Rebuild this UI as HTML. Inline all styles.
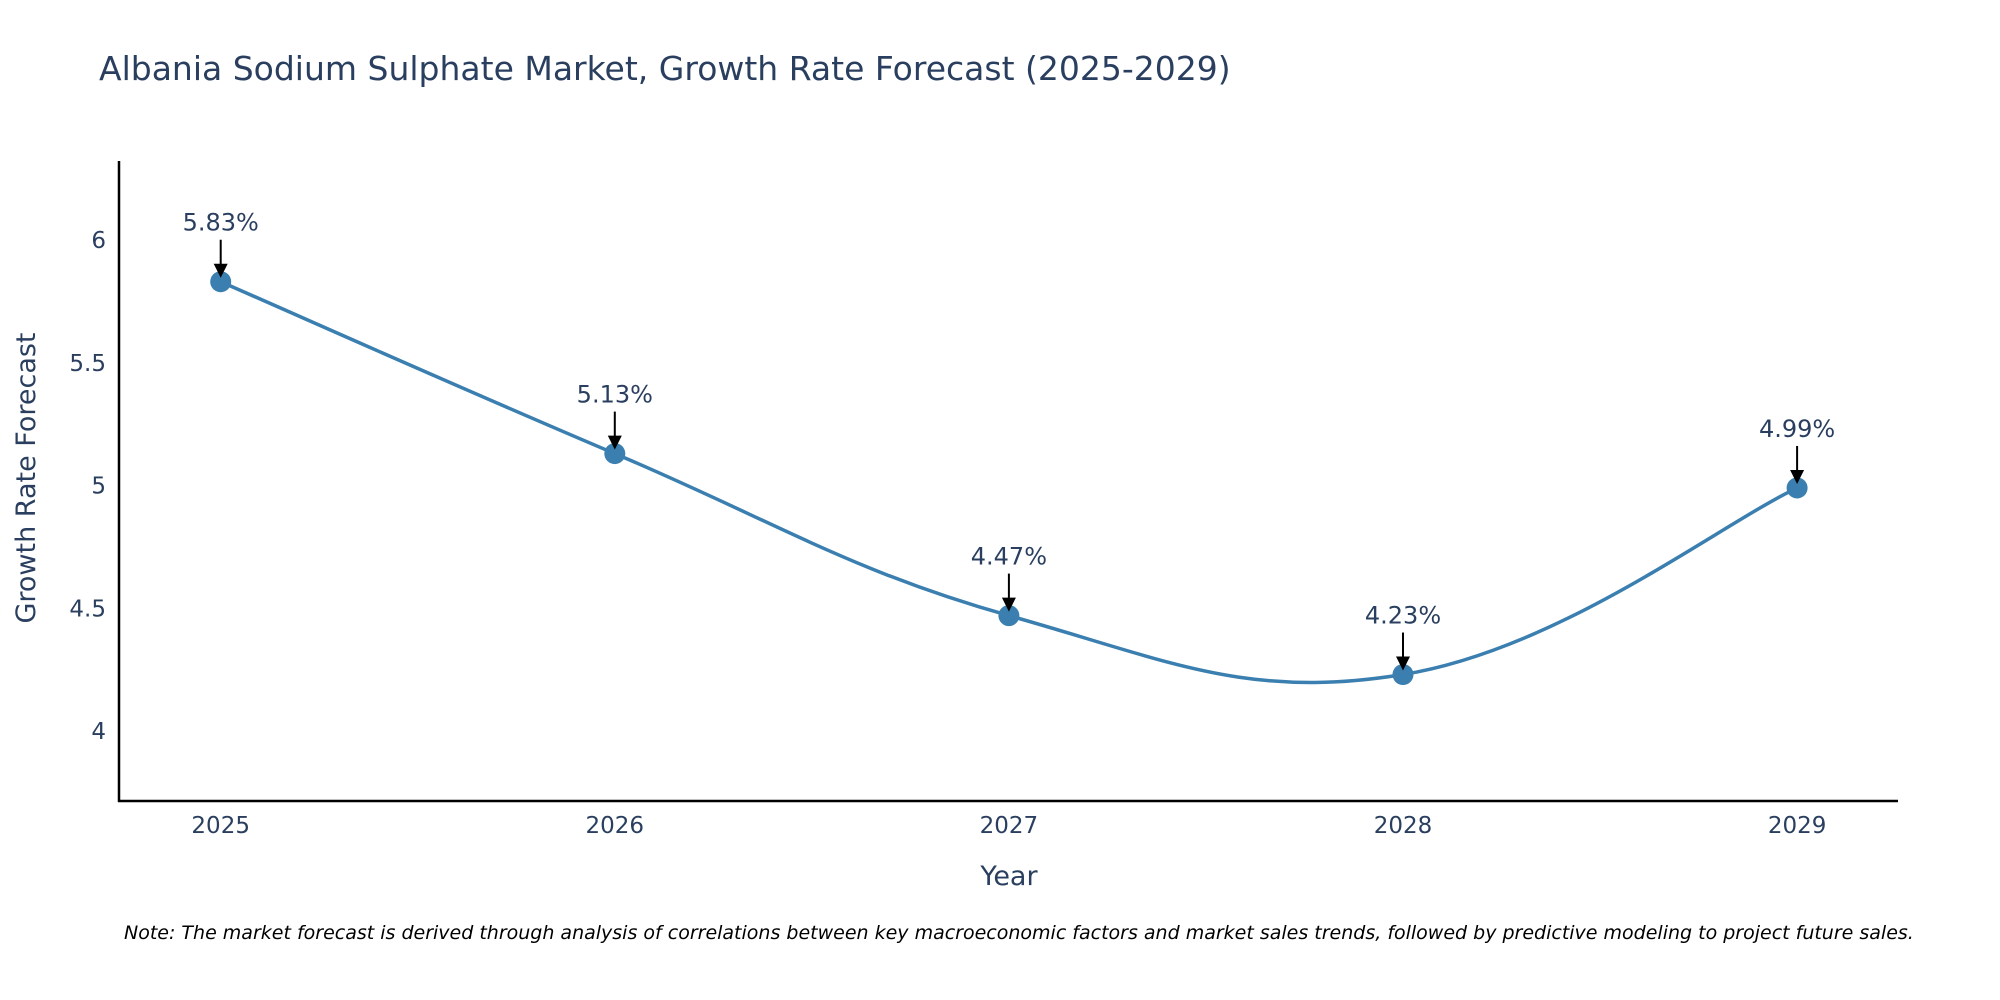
<!DOCTYPE html>
<html><head><meta charset="utf-8"><style>
html,body{margin:0;padding:0;background:#fff;}
svg{display:block;font-family:"DejaVu Sans","Liberation Sans",sans-serif;}
</style></head><body>
<svg id="chart" width="2000" height="1000" viewBox="0 0 2000 1000">
<text x="99" y="80" font-size="33" fill="#2a3f5f">Albania Sodium Sulphate Market, Growth Rate Forecast (2025-2029)</text>
<g id="yticks"></g>
<g id="xticks"></g>
<line x1="119" y1="161" x2="119" y2="802" stroke="#000" stroke-width="2.5"/>
<line x1="118" y1="801" x2="1898" y2="801" stroke="#000" stroke-width="2.5"/>
<g id="series"></g>
<g id="annots"></g>
<text x="1009" y="885" font-size="27" fill="#2a3f5f" text-anchor="middle">Year</text>
<text transform="translate(35,478) rotate(-90)" font-size="27" fill="#2a3f5f" text-anchor="middle">Growth Rate Forecast</text>
<text x="124" y="939" font-size="19" font-style="italic" fill="#000">Note: The market forecast is derived through analysis of correlations between key macroeconomic factors and market sales trends, followed by predictive modeling to project future sales.</text>
</svg>
<script>
const years = [2025, 2026, 2027, 2028, 2029];
const values = [5.83, 5.13, 4.47, 4.23, 4.99];
const valueLabels = ["5.83%", "5.13%", "4.47%", "4.23%", "4.99%"];
const yTicks = [4, 4.5, 5, 5.5, 6];
const yTickLabels = ["4", "4.5", "5", "5.5", "6"];

const NS = "http://www.w3.org/2000/svg";
function xs(v){ return 220.7 + (v - 2025) * 394.1; }
function ys(v){ return 731 - (v - 4) * 245.5; }
function mk(tag, attrs, parent){ const e = document.createElementNS(NS, tag); for (const k in attrs) e.setAttribute(k, attrs[k]); parent.appendChild(e); return e; }

const yg = document.getElementById('yticks');
yTicks.forEach((t, i) => {
  const el = mk('text', {x: 106, y: ys(t) + 8, 'font-size': 23, fill: '#2a3f5f', 'text-anchor': 'end'}, yg);
  
  
  el.textContent = yTickLabels[i];
});
const xg = document.getElementById('xticks');
years.forEach(y => {
  const el = mk('text', {x: xs(y), y: 833, 'font-size': 23, fill: '#2a3f5f', 'text-anchor': 'middle'}, xg);
  
  
  el.textContent = String(y);
});

const pts = years.map((y, i) => [xs(y), ys(values[i])]);
let d = 'M' + pts[0][0] + ',' + pts[0][1];
const s = 0.2;
for (let i = 0; i < pts.length - 1; i++) {
  const p0 = pts[Math.max(0, i - 1)], p1 = pts[i], p2 = pts[i + 1], p3 = pts[Math.min(pts.length - 1, i + 2)];
  const c1 = [p1[0] + (p2[0] - p0[0]) * s, p1[1] + (p2[1] - p0[1]) * s];
  const c2 = [p2[0] - (p3[0] - p1[0]) * s, p2[1] - (p3[1] - p1[1]) * s];
  d += ' C' + c1[0] + ',' + c1[1] + ' ' + c2[0] + ',' + c2[1] + ' ' + p2[0] + ',' + p2[1];
}
const sg = document.getElementById('series');
const line = mk('path', {d: d, fill: 'none', stroke: '#3a7fb0', 'stroke-width': 3.5}, sg);


pts.forEach(p => {
  const c = mk('circle', {cx: p[0], cy: p[1], r: 10.5, fill: '#3a7fb0'}, sg);
  
  
});

const ag = document.getElementById('annots');
pts.forEach((p, i) => {
  const ln = mk('line', {x1: p[0], y1: p[1] - 42, x2: p[0], y2: p[1] - 16, stroke: '#000', 'stroke-width': 2}, ag);
  
  
  const hd = mk('polygon', {points: (p[0]-7)+','+(p[1]-18)+' '+(p[0]+7)+','+(p[1]-18)+' '+p[0]+','+(p[1]-4), fill: '#000'}, ag);
  
  
  const t = mk('text', {x: p[0], y: p[1] - 51, 'font-size': 24, fill: '#2a3f5f', 'text-anchor': 'middle'}, ag);
  
  
  t.textContent = valueLabels[i];
});
</script>
</body></html>
